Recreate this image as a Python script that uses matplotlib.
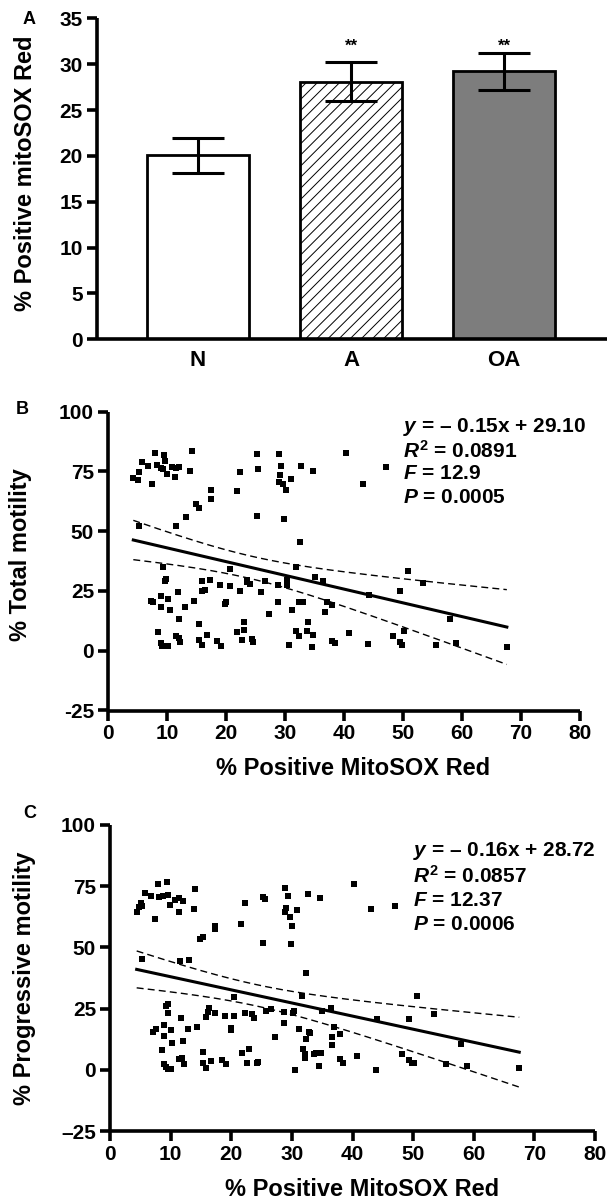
import numpy as np
import matplotlib
matplotlib.use("Agg")
import matplotlib.pyplot as plt

plt.rcParams['font.family'] = ['Liberation Sans', 'DejaVu Sans']
plt.rcParams['font.weight'] = 'bold'
plt.rcParams['mathtext.fontset'] = 'custom'
plt.rcParams['mathtext.it'] = 'Liberation Sans:italic:bold'
plt.rcParams['mathtext.rm'] = 'Liberation Sans:bold'
plt.rcParams['mathtext.bf'] = 'Liberation Sans:bold'
plt.rcParams['hatch.linewidth'] = 0.7

# ---------------- Panel A data ----------------
groups = ['N', 'A', 'OA']
means = [20.05, 28.1, 29.2]
errs = [1.9, 2.15, 2.05]
sig_labels = ['', '**', '**']

# ---------------- Panel B data ----------------
B_x = [4.29, 5.03, 5.31, 5.76, 6.84, 7.40, 8.02, 8.25, 8.93, 9.27, 9.49, 9.60, 10.0, 10.8, 11.4,
       11.5, 12.1, 13.9, 14.2, 17.4, 17.4, 14.9, 15.5, 13.2, 11.5, 5.31, 21.8, 22.4, 25.2, 25.5,
       25.2, 29.0, 29.4, 29.2, 28.9, 29.7, 30.1, 31.0, 32.7, 34.7, 29.9, 32.5, 40.3, 47.2, 43.2,
       9.38, 9.83, 9.66, 7.34, 7.57, 8.98, 9.04, 10.2, 10.5, 11.9, 12.1, 13.0, 14.5, 15.4, 8.53,
       8.93, 9.10, 9.66, 10.2, 11.5, 12.1, 12.2, 15.5, 15.9, 16.7, 18.4, 19.1, 16.0, 16.4, 15.9,
       17.3, 19.0, 20.6, 20.6, 20.0, 19.9, 22.4, 23.5, 23.5, 24.1, 25.9, 26.6, 27.3, 28.8, 28.8,
       30.3, 30.4, 30.3, 30.7, 31.2, 31.8, 31.8, 32.3, 32.4, 33.1, 33.9, 33.8, 34.8, 34.5, 35.0,
       36.4, 37.2, 38.0, 36.8, 38.0, 38.5, 21.9, 22.7, 23.1, 23.1, 24.4, 24.5,
       50.8, 53.4, 49.5, 44.2, 57.9, 40.9, 44.0, 48.3, 49.5, 50.1, 49.8, 55.6, 58.9, 67.6]
B_y = [72.4, 71.4, 74.6, 79.1, 77.3, 69.6, 82.8, 77.7, 76.6, 75.9, 81.9, 79.5, 73.9, 76.7, 72.8,
       76.3, 76.7, 75.2, 83.5, 67.2, 63.3, 61.2, 59.8, 55.8, 52.3, 52.3, 66.8, 74.9, 82.1, 76.2,
       56.5, 82.4, 77.1, 73.5, 70.7, 69.7, 67.4, 71.8, 77.3, 75.0, 55.2, 45.3, 82.8, 77.0, 69.7,
       35.0, 30.0, 29.1, 20.6, 20.2, 22.9, 18.3, 21.6, 17.0, 24.5, 13.4, 18.5, 20.8, 11.0, 7.8,
       3.1, 2.1, 2.1, 2.1, 6.1, 5.2, 3.8, 4.7, 2.2, 6.6, 4.0, 2.1, 29.0, 25.4, 25.0,
       29.8, 27.3, 27.1, 34.2, 20.5, 19.5, 25.0, 29.6, 28.6, 27.9, 24.5, 29.1, 15.2, 20.5, 27.3,
       29.6, 28.3, 27.6, 2.2, 17.0, 34.9, 8.4, 6.1, 20.5, 20.5, 11.9, 8.4, 6.4, 1.4, 30.7,
       29.3, 20.2, 19.2, 16.3, 4.0, 3.1, 7.7, 4.3, 12.0, 8.6, 5.0, 3.8,
       33.5, 28.2, 25.1, 23.3, 13.1, 7.3, 2.7, 6.1, 3.8, 8.2, 2.4, 2.4, 3.1, 1.4]

# ---------------- Panel C data ----------------
C_x = [4.40, 4.84, 5.12, 5.23, 5.78, 6.77, 7.43, 7.98, 8.09, 8.81, 9.36, 9.52, 9.91, 10.7, 11.3,
       11.4, 12.1, 14.0, 13.8, 17.3, 17.3, 14.8, 15.4, 5.23, 11.6, 13.1, 21.6, 22.3, 25.2, 25.5,
       25.2, 28.9, 29.3, 29.0, 28.8, 29.7, 30.1, 30.9, 32.6, 34.7, 29.9, 32.4, 40.2, 43.1, 47.0,
       9.52, 9.19, 9.63, 11.7, 7.15, 7.54, 8.92, 8.92, 10.1, 10.3, 12.0, 12.8, 14.4, 8.53, 8.92,
       9.25, 9.52, 10.1, 11.4, 11.9, 12.2, 15.3, 15.4, 15.9, 16.6, 18.4, 19.1, 15.8, 16.1, 16.4,
       17.3, 18.9, 20.4, 20.5, 19.9, 20.0, 22.3, 23.4, 23.8, 25.7, 26.6, 27.2, 28.7, 28.7, 30.2,
       30.4, 30.5, 31.2, 31.6, 31.8, 32.1, 32.1, 32.9, 33.0, 32.3, 33.6, 33.9, 34.8, 34.5, 35.0,
       36.4, 37.0, 36.7, 36.7, 37.9, 37.9, 38.4, 40.8, 21.8, 22.6, 22.9, 24.4, 24.3,
       50.7, 53.5, 49.4, 44.1, 57.9, 48.2, 49.4, 49.8, 50.2, 43.9, 55.4, 58.9, 67.5]
C_y = [64.3, 66.3, 67.9, 66.8, 72.3, 70.9, 61.5, 75.7, 70.7, 71.0, 76.8, 71.3, 67.3, 69.3, 70.0,
       64.5, 69.0, 73.6, 65.5, 58.7, 57.3, 53.3, 54.1, 45.1, 44.4, 44.8, 59.5, 68.2, 70.7, 69.6,
       51.6, 74.0, 70.9, 65.9, 64.5, 62.5, 58.7, 65.2, 71.6, 70.2, 51.2, 39.4, 75.8, 65.5, 66.9,
       26.9, 26.2, 23.4, 21.3, 15.6, 16.6, 18.3, 14.0, 16.3, 11.1, 11.8, 16.7, 17.4, 8.2, 2.3,
       1.1, 0.4, 0.4, 4.3, 5.0, 2.3, 7.5, 2.7, 0.7, 3.5, 4.1, 2.3, 21.7, 23.8, 25.1,
       23.4, 22.0, 22.1, 29.9, 17.0, 16.2, 23.1, 22.7, 21.1, 24.0, 24.7, 13.5, 19.3, 23.8, 23.4,
       24.2, 0.1, 16.6, 30.2, 8.4, 6.4, 4.8, 15.6, 14.9, 12.6, 6.4, 6.8, 6.8, 1.6, 24.0,
       25.1, 17.7, 13.6, 10.2, 14.5, 4.3, 3.0, 5.8, 6.8, 2.7, 8.4, 3.3, 3.0,
       30.2, 22.8, 20.9, 20.7, 10.6, 6.4, 4.1, 2.7, 3.0, 0.0, 2.4, 1.8, 0.7]

B_stats = [r'$y$ = – 0.15x + 29.10', r'$R^2$ = 0.0891', r'$F$ = 12.9', r'$P$ = 0.0005']
C_stats = [r'$y$ = – 0.16x + 28.72', r'$R^2$ = 0.0857', r'$F$ = 12.37', r'$P$ = 0.0006']
sc_xticks = [0, 10, 20, 30, 40, 50, 60, 70, 80]
sc_yticks = [-25, 0, 25, 50, 75, 100]
B_yticklabels = ['-25', '0', '25', '50', '75', '100']
C_yticklabels = ['–25', '0', '25', '50', '75', '100']

W, H = 616, 1200
fig = plt.figure(figsize=(W / 100, H / 100), dpi=100)


def px_axes(x0, x1, ytop, ybot):
    return fig.add_axes([x0 / W, 1 - ybot / H, (x1 - x0) / W, (ybot - ytop) / H])


SPW = 2.6
TICKFS = 15
LABFS = 17


def style(ax):
    for s in ['top', 'right']:
        ax.spines[s].set_visible(False)
    for s in ['left', 'bottom']:
        ax.spines[s].set_linewidth(SPW)
        ax.spines[s].set_capstyle('butt')
    ax.tick_params(width=SPW, length=7, labelsize=TICKFS, pad=3)
    for lab in ax.get_xticklabels() + ax.get_yticklabels():
        lab.set_fontweight('bold')


# ---------------- Panel A ----------------
axA = px_axes(96.7, 606.7, 18.3, 339.3)
xpos = np.arange(len(groups))
fills = ['white', 'white', '#7d7d7d']
hatches = [None, '///', None]
for i in range(len(groups)):
    axA.bar(xpos[i], means[i], width=0.667, color=fills[i], edgecolor='black',
            linewidth=2.0, hatch=hatches[i], zorder=2)
axA.errorbar(xpos, means, yerr=errs, fmt='none', ecolor='black', elinewidth=2.2,
             capsize=19, capthick=2.2, zorder=3)
for i, s in enumerate(sig_labels):
    if s:
        axA.text(xpos[i], 32.0, s, ha='center', va='center', fontsize=12, fontweight='bold')
axA.set_xlim(-0.662, 2.671)
axA.set_ylim(0, 35)
axA.set_yticks(range(0, 36, 5))
axA.set_xticks(xpos)
axA.set_xticklabels(groups)
style(axA)
axA.tick_params(axis='x', length=0, pad=8, labelsize=16)
axA.set_ylabel('% Positive mitoSOX Red', fontsize=LABFS, fontweight='bold')
axA.yaxis.set_label_coords(-0.117, 0.517)
fig.text(29 / W, 1 - 20 / H, 'A', ha='center', va='center', fontsize=13, fontweight='bold')


# ---------------- Scatter panels ----------------
def scatter_panel(ax, x, y, stats, ylab, yticklabels, tx, ty, dy):
    x = np.asarray(x)
    y = np.asarray(y)
    ax.scatter(x, y, marker='s', s=22, color='black', linewidths=0, zorder=3)
    n = len(x)
    b, a = np.polyfit(x, y, 1)
    xs = np.linspace(x.min(), x.max(), 200)
    yhat = a + b * xs
    resid = y - (a + b * x)
    s = np.sqrt(np.sum(resid ** 2) / (n - 2))
    sxx = np.sum((x - x.mean()) ** 2)
    se = s * np.sqrt(1.0 / n + (xs - x.mean()) ** 2 / sxx)
    t = 1.978
    ax.plot(xs, yhat, color='black', lw=2.2, zorder=4)
    ax.plot(xs, yhat + t * se, color='black', lw=1.0, ls=(0, (5, 3)), zorder=4)
    ax.plot(xs, yhat - t * se, color='black', lw=1.0, ls=(0, (5, 3)), zorder=4)
    ax.set_xlim(0, 80)
    ax.set_ylim(-25, 100)
    ax.set_xticks(sc_xticks)
    ax.set_yticks(sc_yticks)
    ax.set_yticklabels(yticklabels)
    style(ax)
    ax.set_xlabel('% Positive MitoSOX Red', fontsize=LABFS, fontweight='bold')
    ax.set_ylabel(ylab, fontsize=LABFS, fontweight='bold')
    for k, line in enumerate(stats):
        ax.text(tx, ty - k * dy, line, transform=ax.transAxes, ha='left', va='center',
                fontsize=15, fontweight='bold')


axB = px_axes(108, 580, 411.7, 710.5)
scatter_panel(axB, B_x, B_y, B_stats, '% Total motility', B_yticklabels, 0.625, 0.949, 0.0787)
axB.yaxis.set_label_coords(-0.161, 0.52)
axB.xaxis.set_label_coords(0.52, -0.156)
fig.text(22 / W, 1 - 410 / H, 'B', ha='center', va='center', fontsize=13, fontweight='bold')

axC = px_axes(110, 595, 824.7, 1131.3)
scatter_panel(axC, C_x, C_y, C_stats, '% Progressive motility', C_yticklabels, 0.625, 0.914, 0.08)
axC.yaxis.set_label_coords(-0.153, 0.5)
axC.xaxis.set_label_coords(0.52, -0.152)
fig.text(30 / W, 1 - 813 / H, 'C', ha='center', va='center', fontsize=13, fontweight='bold')

fig.savefig('out.png', dpi=100)
